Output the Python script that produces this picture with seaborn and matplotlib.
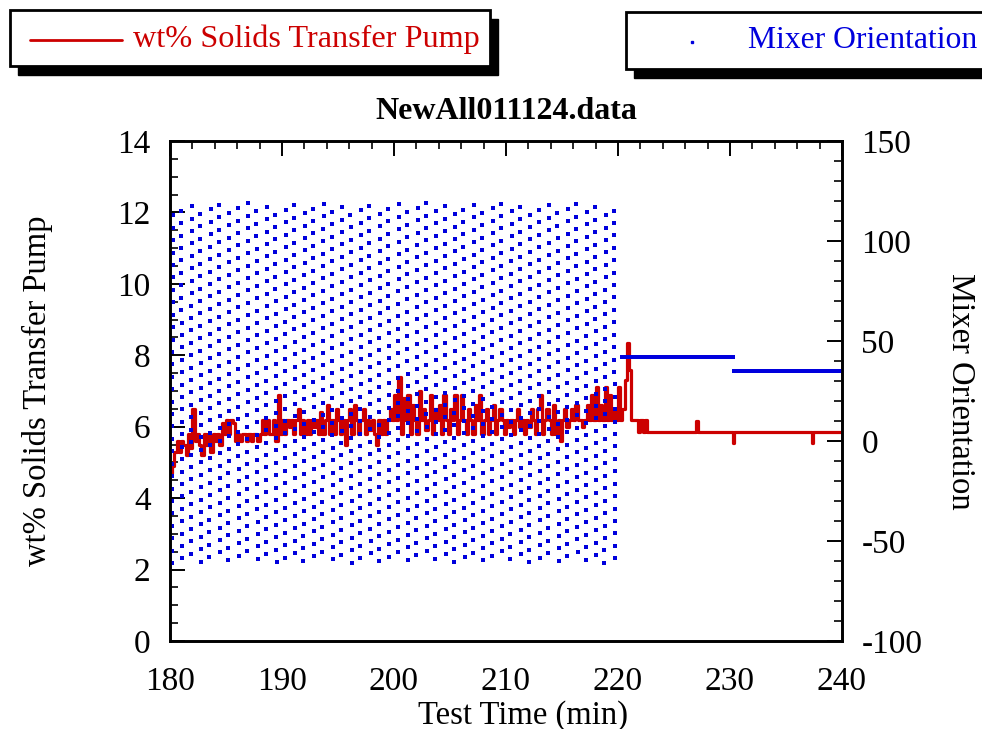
import numpy as np
import pandas as pd
import matplotlib
matplotlib.use("Agg")
import matplotlib.pyplot as plt
import seaborn as sns
from matplotlib.patches import Rectangle
from matplotlib.lines import Line2D
from matplotlib.ticker import MultipleLocator

RED = "#cc0000"
BLUE = "#0000dd"

# ─── wt% solids, sampled every 0.2 min from 180.0 to 222.4 ───────────────────
solids_start = 180.0
solids_step = 0.2
solids_values = [
    4.7, 4.9, 5.3, 5.6, 5.3,   5.6, 5.5, 5.2, 5.8, 5.4,   # 180-182
    6.5, 5.6, 5.8, 5.5, 5.2,   5.8, 5.5, 5.8, 5.3, 5.8,   # 182-184
    5.6, 5.8, 5.5, 6.1, 5.8,   6.2, 5.8, 6.2, 6.1, 5.6,   # 184-186
    5.8, 5.6, 5.8, 5.8, 5.6,   5.8, 5.6, 5.8, 5.8, 5.6,   # 186-188
    5.8, 6.2, 5.8, 6.2, 5.8,   5.8, 6.2, 5.6, 6.9, 5.8,   # 188-190
    6.2, 5.8, 6.2, 6.0, 6.2,   5.8, 6.2, 6.5, 5.8, 6.2,   # 190-192
    5.8, 6.2, 5.8, 6.2, 6.0,   6.2, 5.8, 6.4, 5.8, 6.2,   # 192-194
    6.6, 5.8, 6.2, 5.8, 6.5,   6.2, 5.8, 6.2, 5.5, 6.2,   # 194-196
    6.5, 5.8, 6.6, 6.2, 5.8,   6.2, 6.5, 5.8, 6.2, 5.9,   # 196-198
    6.2, 5.8, 5.5, 6.2, 5.8,   6.2, 5.8, 6.2, 6.5, 6.2,   # 198-200
    6.9, 6.2, 7.4, 5.8, 6.8,   6.2, 6.9, 5.8, 6.6, 6.2,   # 200-202
    5.8, 7.0, 6.2, 6.5, 5.9,   6.2, 6.9, 5.8, 6.5, 6.2,   # 202-204
    6.6, 5.8, 6.9, 6.2, 5.8,   6.5, 6.2, 6.9, 5.8, 6.2,   # 204-206
    6.9, 6.2, 5.8, 6.5, 6.2,   5.8, 6.6, 6.2, 6.9, 5.8,   # 206-208
    6.2, 6.5, 5.8, 6.2, 6.6,   5.8, 6.2, 6.5, 6.2, 5.8,   # 208-210
    6.2, 6.0, 6.2, 5.8, 6.2,   6.5, 6.0, 6.2, 5.8, 6.2,   # 210-212
    6.0, 6.5, 6.2, 5.8, 6.5,   6.9, 5.8, 6.2, 6.5, 6.2,   # 212-214
    5.8, 6.6, 5.8, 6.2, 5.6,   6.2, 6.5, 6.0, 6.2, 6.5,   # 214-216
    6.2, 6.6, 6.2, 6.2, 6.0,   6.2, 6.6, 6.2, 6.9, 6.2,   # 216-218
    7.1, 6.2, 6.6, 6.2, 7.1,   6.2, 6.9, 6.2, 6.5, 6.2,   # 218-220
    7.1, 6.2, 6.5, 7.3, 8.35,  7.6, 6.2, 6.2, 6.2, 5.85,  # 220-222
    6.2, 5.85, 6.2,                                         # 222-222.4
]
# after 222.6 the reading sits flat with a few single-sample blips
solids_tail_times = [222.6, 227.0, 227.1, 230.3, 230.4, 237.3, 237.4, 240.0]
solids_tail_values = [5.85, 6.15, 5.85, 5.55, 5.85, 5.55, 5.85, 5.85]

# ─── mixer orientation: swept -61..119 deg, logged as short bursts ───────────
mixer_low = -61.0
mixer_high = 119.0
mixer_first_burst = 180.15
mixer_burst_every = 0.84     # min between logger bursts
mixer_burst_n = 29           # readings per burst
mixer_burst_width = 0.12     # min spanned by one burst
mixer_phase_drift = 0.37     # fraction of a step the sweep slips per burst
mixer_sweep_end = 220.35
mixer_hold_dt = 0.035
mixer_hold_times = [220.35, 230.3, 240.0]
mixer_hold_values = [42.0, 35.0]

# ─── build tables ─────────────────────────────────────────────────────────────
t_solids = solids_start + solids_step * np.arange(len(solids_values))
solids = pd.DataFrame({
    "time": np.concatenate([t_solids, solids_tail_times]),
    "wt": np.concatenate([solids_values, solids_tail_values]),
})

bursts = np.arange(mixer_first_burst, mixer_sweep_end - 0.1, mixer_burst_every)
k = np.arange(len(bursts))[:, None]
pos = (np.arange(mixer_burst_n)[None, :] + (k * mixer_phase_drift) % 1.0) / mixer_burst_n
pos = pos % 1.0
direction = np.where(k % 2 == 0, pos, 1 - pos)
t_sweep = (bursts[:, None] + mixer_burst_width * direction).ravel()
a_sweep = (mixer_low + (mixer_high - mixer_low) * pos).ravel()

t_hold = np.arange(mixer_hold_times[0], mixer_hold_times[-1], mixer_hold_dt)
a_hold = np.where(t_hold < mixer_hold_times[1], mixer_hold_values[0], mixer_hold_values[1])

mixer = pd.DataFrame({"time": np.concatenate([t_sweep, t_hold]),
                      "angle": np.concatenate([a_sweep, a_hold])})

# ─── figure ──────────────────────────────────────────────────────────────────
sns.set_theme(style="white")
plt.rcParams["font.family"] = ["Liberation Serif", "DejaVu Serif"]
plt.rcParams["axes.unicode_minus"] = False
plt.rcParams["text.color"] = "black"
plt.rcParams["axes.labelcolor"] = "black"

W, H = 982, 729
fig = plt.figure(figsize=(W / 100, H / 100), dpi=100)
ax = fig.add_axes([170 / W, 1 - 641 / H, 672 / W, 500 / H])

sns.lineplot(data=solids, x="time", y="wt", ax=ax, color=RED, lw=2.3,
             drawstyle="steps-post", estimator=None, sort=True)
ax.set_xlim(180, 240)
ax.set_ylim(0, 14)
ax.set_xlabel("Test Time (min)", fontsize=23.5, labelpad=2)
ax.xaxis.set_label_coords(0.525, -0.118)
ax.set_ylabel("wt% Solids Transfer Pump", fontsize=23.5, labelpad=46)
ax.set_title("NewAll011124.data", fontsize=23, fontweight="bold", pad=16)

ax2 = ax.twinx()
sns.scatterplot(data=mixer, x="time", y="angle", ax=ax2, color=BLUE,
                marker="s", s=4.8, linewidth=0)
ax2.set_ylim(-100, 150)
ax2.set_xlim(180, 240)
ax2.set_ylabel("Mixer Orientation", fontsize=23.5, rotation=-90, labelpad=38)

ax.xaxis.set_major_locator(MultipleLocator(10))
ax.xaxis.set_minor_locator(MultipleLocator(2))
ax.yaxis.set_major_locator(MultipleLocator(2))
ax.yaxis.set_minor_locator(MultipleLocator(0.5))
ax2.yaxis.set_major_locator(MultipleLocator(50))
ax2.yaxis.set_minor_locator(MultipleLocator(10))

for a in (ax, ax2):
    a.tick_params(which="major", direction="in", length=11, width=1.4,
                  labelsize=24, pad=14, colors="black")
    a.tick_params(which="minor", direction="in", length=6, width=1.4)
    for sp in a.spines.values():
        sp.set_linewidth(1.9)
        sp.set_color("black")
ax.tick_params(which="both", top=True, right=False)
ax.tick_params(axis="x", pad=18)

# ─── boxed legends with drop shadows ─────────────────────────────────────────
def fx(x):
    return x / W


def fy(y):
    return 1 - y / H


def shadow_box(x0, y0, x1, y1):
    fig.add_artist(Rectangle((fx(x0 + 8), fy(y1 + 9)), (x1 - x0) / W, (y1 - y0) / H,
                             transform=fig.transFigure, facecolor="black",
                             edgecolor="black", zorder=5))
    fig.add_artist(Rectangle((fx(x0), fy(y1)), (x1 - x0) / W, (y1 - y0) / H,
                             transform=fig.transFigure, facecolor="white",
                             edgecolor="black", lw=2.0, zorder=6))


shadow_box(10, 10, 490, 66)
fig.add_artist(Line2D([fx(30), fx(122)], [fy(40), fy(40)], color=RED, lw=2.0,
                      transform=fig.transFigure, zorder=7))
fig.text(fx(133), fy(39), "wt% Solids Transfer Pump", color=RED, fontsize=23.2,
         ha="left", va="center", zorder=7)

shadow_box(626, 12, 995, 69)
fig.add_artist(Line2D([fx(692)], [fy(42)], color=BLUE, marker="s", ms=2.0, lw=0,
                      transform=fig.transFigure, zorder=7))
fig.text(fx(748), fy(40), "Mixer Orientation", color=BLUE, fontsize=22.8,
         ha="left", va="center", zorder=7)

fig.savefig("out.png", dpi=100)
plt.close(fig)
